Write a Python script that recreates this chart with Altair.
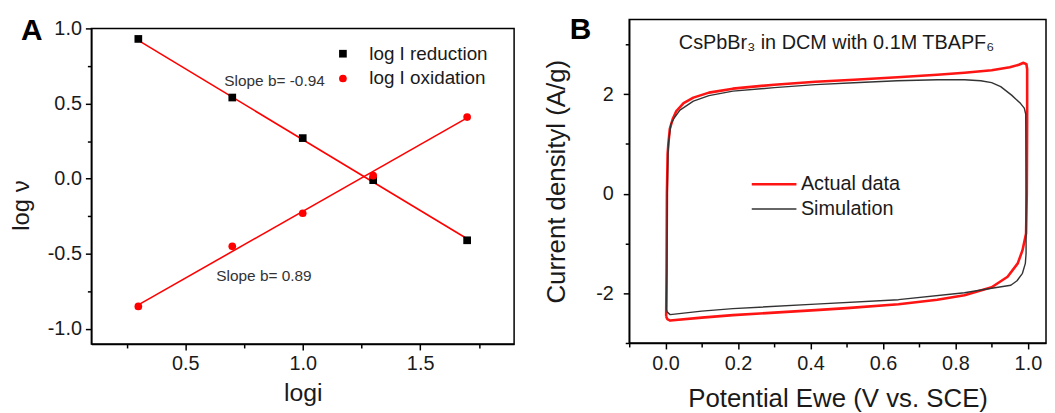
import altair as alt
import pandas as pd

FONT = "Liberation Sans"

# ---------------- Panel A data ----------------
logi = [0.3, 0.7, 1.0, 1.3, 1.7]
log_v_reduction = [0.93, 0.54, 0.27, -0.01, -0.41]
log_v_oxidation = [-0.85, -0.45, -0.23, 0.02, 0.41]
fit_x = [0.3, 1.7]
fit_reduction = [0.92, -0.40]
fit_oxidation = [-0.84, 0.405]
series_A = ["log I reduction", "log I oxidation"]
slope_labels = ["Slope b= -0.94", "Slope b= 0.89"]
xticks_A = [0.25, 0.5, 0.75, 1.0, 1.25, 1.5, 1.75]
yticks_A = [-1.0, -0.75, -0.5, -0.25, 0.0, 0.25, 0.5, 0.75, 1.0]

# ---------------- Panel B data ----------------
actual_V = [0.002, 0.003, 0.004, 0.006, 0.008, 0.012, 0.02, 0.03, 0.05, 0.077,
            0.12, 0.186, 0.3, 0.414, 0.52, 0.64, 0.75, 0.825, 0.9, 0.95,
            0.975, 0.988, 0.996, 0.998, 0.998, 0.997, 0.995, 0.985, 0.972, 0.944,
            0.9, 0.825, 0.75, 0.643, 0.5, 0.414, 0.3, 0.186, 0.1, 0.013,
            0.005, 0.002]
actual_I = [-2.47, -1.5, 0.0, 0.8, 1.0, 1.3, 1.5, 1.66, 1.82, 1.93,
            2.03, 2.11, 2.19, 2.25, 2.29, 2.34, 2.39, 2.43, 2.48, 2.54,
            2.59, 2.63, 2.6, 2.5, 1.5, 0.0, -0.8, -1.14, -1.4, -1.67,
            -1.88, -2.04, -2.13, -2.22, -2.30, -2.34, -2.39, -2.44, -2.49, -2.55,
            -2.52, -2.47]
sim_V = [0.003, 0.004, 0.005, 0.007, 0.009, 0.015, 0.025, 0.04, 0.077, 0.12,
         0.186, 0.3, 0.414, 0.52, 0.64, 0.75, 0.825, 0.87, 0.9, 0.925,
         0.955, 0.98, 0.99, 0.994, 0.995, 0.995, 0.993, 0.985, 0.97, 0.953,
         0.9, 0.825, 0.643, 0.414, 0.186, 0.1, 0.013, 0.005, 0.003]
sim_I = [-2.33, -1.5, 0.0, 0.8, 1.06, 1.4, 1.53, 1.68, 1.86, 1.97,
         2.06, 2.13, 2.19, 2.23, 2.27, 2.29, 2.29, 2.27, 2.23, 2.15,
         1.98, 1.81, 1.72, 1.6, 0.0, -1.2, -1.4, -1.6, -1.75, -1.84,
         -1.90, -1.99, -2.13, -2.22, -2.31, -2.36, -2.43, -2.38, -2.33]
series_B = ["Actual data", "Simulation"]
title_B = "CsPbBr\u2083 in DCM with 0.1M TBAPF\u2086"
xticks_B = [-0.1, 0.0, 0.1, 0.2, 0.3, 0.4, 0.5, 0.6, 0.7, 0.8, 0.9, 1.0]
yticks_B = [-3, -2, -1, 0, 1, 2, 3]

# ---------------- tables ----------------
pts = pd.DataFrame({
    "logi": logi + logi,
    "logv": log_v_reduction + log_v_oxidation,
    "series": [series_A[0]] * len(logi) + [series_A[1]] * len(logi),
})
fits = pd.DataFrame({
    "logi": fit_x + fit_x,
    "logv": fit_reduction + fit_oxidation,
    "series": [series_A[0]] * 2 + [series_A[1]] * 2,
})
cv = pd.DataFrame({
    "V": actual_V + sim_V,
    "I": actual_I + sim_I,
    "series": [series_B[0]] * len(actual_V) + [series_B[1]] * len(sim_V),
    "idx": list(range(len(actual_V))) + list(range(len(sim_V))),
})

TXT = "#1a1a1a"

def tick_cond(test):
    return {"condition": {"test": test, "value": 6}, "value": 4}

# ---------------- Panel A ----------------
majA = "abs(datum.value*2 - round(datum.value*2)) < 0.001"
xA = alt.X("logi:Q", scale=alt.Scale(domain=[0.1, 1.9], nice=False, zero=False),
           axis=alt.Axis(values=xticks_A, tickCount=100, title="logi", titleFontSize=25, labelFontSize=20,
                         labelExpr=f"({majA}) ? format(datum.value, '.1f') : ''",
                         tickSize=tick_cond(majA), labelPadding=4, titlePadding=7,
                         labelFlush=False, labelOverlap=False, grid=False))
yA = alt.Y("logv:Q", scale=alt.Scale(domain=[-1.1, 1.0], nice=False, zero=False),
           axis=alt.Axis(values=yticks_A, tickCount=100, title="log \u03bd", titleFontSize=24, labelFontSize=20,
                         labelExpr=f"({majA}) ? replace(format(datum.value, '.1f'), '\u2212', '-') : ''",
                         tickSize=tick_cond(majA), labelPadding=4, titlePadding=14, titleY=178,
                         labelFlush=False, labelOverlap=False, grid=False))

fit_layer = alt.Chart(fits).mark_line(color="#ff0000", strokeWidth=1.6).encode(
    x=xA, y=yA, detail="series:N")

legA = alt.Legend(title=None, orient="none", legendX=244, legendY=25, padding=0,
                  labelFontSize=19, labelFont=FONT, labelColor=TXT, symbolSize=60,
                  labelOffset=17, rowPadding=5)
pt_layer = alt.Chart(pts).mark_point(filled=True, size=60, opacity=1).encode(
    x=xA, y=yA,
    color=alt.Color("series:N", scale=alt.Scale(domain=series_A, range=["#000000", "#ff0000"]), legend=legA),
    shape=alt.Shape("series:N", scale=alt.Scale(domain=series_A, range=["square", "circle"]), legend=legA),
)

slope1 = alt.Chart(pd.DataFrame({"t": [slope_labels[0]]})).mark_text(
    font=FONT, fontSize=15.5, color="#333333").encode(x=alt.datum(0.88), y=alt.datum(0.65), text="t:N")
slope2 = alt.Chart(pd.DataFrame({"t": [slope_labels[1]]})).mark_text(
    font=FONT, fontSize=15.5, color="#333333").encode(x=alt.datum(0.835), y=alt.datum(-0.65), text="t:N")
letterA = alt.Chart(pd.DataFrame({"t": ["A"]})).mark_text(
    font=FONT, fontSize=30, fontWeight="bold", color="#000000").encode(
    x=alt.value(-60), y=alt.value(3), text="t:N")

panelA = alt.layer(fit_layer, pt_layer, slope1, slope2, letterA).properties(width=426, height=318)

spacer = alt.Chart(pd.DataFrame({"t": [""]})).mark_text().encode(text="t:N").properties(
    width=426, height=9, view=alt.ViewBackground(stroke=None))

leftCol = alt.vconcat(spacer, panelA, spacing=0, bounds="flush")

# ---------------- Panel B ----------------
majBx = "round(datum.value*10) % 2 == 0"
majBy = "round(datum.value) % 2 == 0"
xB = alt.X("V:Q", scale=alt.Scale(domain=[-0.1, 1.05], nice=False, zero=False),
           axis=alt.Axis(values=xticks_B, tickCount=100, title="Potential Ewe (V vs. SCE)", titleFontSize=26,
                         labelFontSize=20,
                         labelExpr=f"({majBx}) ? format(datum.value, '.1f') : ''",
                         tickSize=tick_cond(majBx), labelPadding=5, titlePadding=12,
                         labelFlush=False, labelOverlap=False, grid=False))
yB = alt.Y("I:Q", scale=alt.Scale(domain=[-3, 3.5], nice=False, zero=False),
           axis=alt.Axis(values=yticks_B, tickCount=100, title="Current densityl (A/g)", titleFontSize=26,
                         labelFontSize=20,
                         labelExpr=f"({majBy}) ? replace(format(datum.value, 'd'), '\u2212', '-') : ''",
                         tickSize=tick_cond(majBy), labelPadding=10, titlePadding=26,
                         labelFlush=False, labelOverlap=False, grid=False))

legB = alt.Legend(title=None, orient="none", legendX=136, legendY=156, padding=0,
                  labelFontSize=20, labelFont=FONT, labelColor=TXT, symbolType="M-3,0H3",
                  symbolSize=225, labelOffset=17, rowPadding=5)
cv_layer = alt.Chart(cv).mark_line(strokeJoin="round").encode(
    x=xB, y=yB,
    color=alt.Color("series:N", scale=alt.Scale(domain=series_B, range=["#ff1414", "#333333"]), legend=legB),
    strokeWidth=alt.StrokeWidth("series:N", scale=alt.Scale(domain=series_B, range=[2.6, 1.4]), legend=legB),
    order="idx:Q",
)
titleB = alt.Chart(pd.DataFrame({"t": [title_B]})).mark_text(
    font=FONT, fontSize=20, color=TXT).encode(x=alt.datum(0.472), y=alt.datum(3.02), text="t:N")
letterB = alt.Chart(pd.DataFrame({"t": ["B"]})).mark_text(
    font=FONT, fontSize=30, fontWeight="bold", color="#000000").encode(
    x=alt.value(-49), y=alt.value(11), text="t:N")

panelB = alt.layer(cv_layer, titleB, letterB).properties(width=420, height=326)

chart = alt.hconcat(leftCol, panelB, spacing=28).resolve_scale(
    color="independent", shape="independent", strokeWidth="independent"
).properties(
    padding={"top": 5, "left": 0, "right": 0, "bottom": 0}, background="white"
).configure_view(
    stroke="#000000", strokeWidth=1.5
).configure_axis(
    grid=False, domainColor="#000000", domainWidth=1.5, tickColor="#000000", tickWidth=1.5,
    labelColor=TXT, titleColor=TXT, labelFont=FONT, titleFont=FONT, titleFontWeight="normal"
)

chart.save("out.html", embed_options={"renderer": "svg", "actions": False})
